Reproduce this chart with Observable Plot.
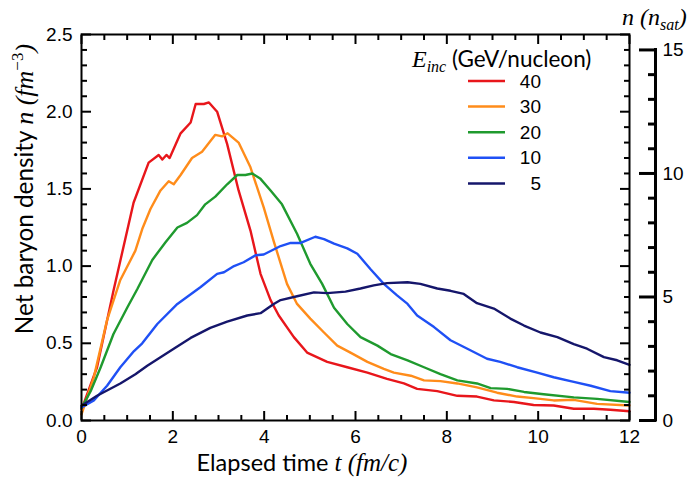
<!DOCTYPE html>
<html><head><meta charset="utf-8">
<script src="https://cdn.jsdelivr.net/npm/d3@7"></script>
<script src="https://cdn.jsdelivr.net/npm/@observablehq/plot@0.6"></script>
<style>body{margin:0;background:#fff}</style>
</head><body><div id="chart"></div>
<script>
// ---- data ----
const energies = ["40", "30", "20", "10", "5"];
const colors = ["#e8161b", "#ff8c1a", "#1f9a2e", "#1f50f5", "#15166b"];

const t40 = [0, 0.34, 0.70, 1.14, 1.47, 1.69, 1.77, 1.86, 1.93, 2.17, 2.39, 2.50, 2.68, 2.79, 2.97, 3.19, 3.44, 3.70, 3.92, 4.14, 4.32, 4.65, 4.94, 5.38, 5.82, 6.26, 6.69, 7.06, 7.35, 7.79, 8.23, 8.66, 9.03, 9.47, 9.90, 10.34, 10.78, 11.22, 11.58, 12.0];
const n40 = [0.07, 0.345, 0.84, 1.41, 1.67, 1.72, 1.69, 1.72, 1.70, 1.86, 1.93, 2.05, 2.05, 2.06, 2.00, 1.79, 1.49, 1.23, 0.95, 0.78, 0.68, 0.54, 0.44, 0.38, 0.345, 0.31, 0.27, 0.24, 0.205, 0.19, 0.16, 0.155, 0.13, 0.12, 0.10, 0.097, 0.076, 0.076, 0.07, 0.06];

const t30 = [0, 0.27, 0.56, 0.85, 1.18, 1.33, 1.51, 1.73, 1.91, 2.02, 2.17, 2.42, 2.64, 2.93, 3.08, 3.20, 3.44, 3.70, 3.99, 4.21, 4.50, 4.72, 5.01, 5.31, 5.60, 5.89, 6.26, 6.62, 6.84, 7.21, 7.50, 7.86, 8.23, 8.66, 9.10, 9.54, 9.90, 10.34, 10.78, 11.29, 12.0];
const n30 = [0.04, 0.28, 0.65, 0.91, 1.10, 1.24, 1.37, 1.49, 1.55, 1.53, 1.59, 1.70, 1.74, 1.85, 1.84, 1.86, 1.80, 1.64, 1.38, 1.16, 0.885, 0.755, 0.66, 0.57, 0.485, 0.44, 0.38, 0.335, 0.31, 0.29, 0.26, 0.255, 0.24, 0.215, 0.18, 0.155, 0.145, 0.13, 0.134, 0.108, 0.097];

const t20 = [0, 0.20, 0.42, 0.70, 1.0, 1.22, 1.55, 1.84, 2.10, 2.31, 2.53, 2.71, 2.93, 3.19, 3.41, 3.59, 3.74, 3.92, 4.14, 4.39, 4.72, 5.01, 5.27, 5.53, 5.82, 6.11, 6.48, 6.77, 7.14, 7.50, 7.86, 8.23, 8.66, 8.96, 9.32, 9.69, 10.12, 10.78, 11.29, 12.0];
const n20 = [0.08, 0.19, 0.345, 0.56, 0.73, 0.85, 1.04, 1.155, 1.25, 1.28, 1.33, 1.40, 1.45, 1.53, 1.59, 1.59, 1.60, 1.565, 1.49, 1.40, 1.21, 1.015, 0.885, 0.73, 0.625, 0.54, 0.485, 0.43, 0.39, 0.345, 0.30, 0.26, 0.24, 0.21, 0.205, 0.185, 0.17, 0.15, 0.14, 0.12];

const t10 = [0, 0.27, 0.56, 0.85, 1.15, 1.33, 1.66, 2.10, 2.31, 2.61, 2.97, 3.12, 3.34, 3.55, 3.81, 3.99, 4.36, 4.58, 4.80, 5.12, 5.31, 5.53, 5.82, 6.04, 6.33, 6.62, 6.91, 7.14, 7.35, 7.72, 8.08, 8.45, 8.88, 9.17, 9.54, 9.98, 10.34, 10.78, 11.15, 11.58, 12.0];
const n10 = [0.085, 0.13, 0.225, 0.345, 0.45, 0.50, 0.625, 0.755, 0.80, 0.865, 0.95, 0.96, 1.0, 1.025, 1.07, 1.075, 1.13, 1.15, 1.15, 1.19, 1.175, 1.145, 1.115, 1.08, 0.98, 0.885, 0.81, 0.755, 0.68, 0.605, 0.52, 0.465, 0.40, 0.38, 0.345, 0.31, 0.28, 0.25, 0.225, 0.19, 0.18];

const t5 = [0, 0.34, 0.85, 1.18, 1.44, 1.73, 2.02, 2.39, 2.82, 3.19, 3.63, 3.92, 4.21, 4.36, 4.72, 5.09, 5.38, 5.78, 6.11, 6.40, 6.69, 7.14, 7.42, 7.79, 8.08, 8.37, 8.66, 9.03, 9.39, 9.69, 10.05, 10.42, 10.78, 11.07, 11.44, 11.73, 12.0];
const n5 = [0.095, 0.16, 0.24, 0.30, 0.355, 0.41, 0.465, 0.535, 0.60, 0.64, 0.68, 0.695, 0.755, 0.78, 0.805, 0.83, 0.825, 0.835, 0.855, 0.875, 0.89, 0.895, 0.885, 0.855, 0.84, 0.82, 0.76, 0.725, 0.66, 0.615, 0.57, 0.54, 0.495, 0.465, 0.41, 0.39, 0.36];

const xDomain = [0, 12];
const yDomain = [0, 2.5];
const xTicks = [0, 2, 4, 6, 8, 10, 12];
const xMinorTicks = [0.5, 1, 1.5, 2.5, 3, 3.5, 4.5, 5, 5.5, 6.5, 7, 7.5, 8.5, 9, 9.5, 10.5, 11, 11.5];
const yTicks = [0, 0.5, 1.0, 1.5, 2.0, 2.5];
const yMinorTicks = [0.1, 0.2, 0.3, 0.4, 0.6, 0.7, 0.8, 0.9, 1.1, 1.2, 1.3, 1.4, 1.6, 1.7, 1.8, 1.9, 2.1, 2.2, 2.3, 2.4];
const nsat = 0.16; // fm^-3
const nsatTicks = [0, 5, 10, 15];
const nsatMinorTicks = [1, 2, 3, 4, 6, 7, 8, 9, 11, 12, 13, 14];

// ---- build table ----
const series = [
  {E: "40", t: t40, n: n40},
  {E: "30", t: t30, n: n30},
  {E: "20", t: t20, n: n20},
  {E: "10", t: t10, n: n10},
  {E: "5", t: t5, n: n5}
];
const rows = series.flatMap(s => s.t.map((t, i) => ({E: s.E, t, n: s.n[i]})));

const none = () => "";
const numFont = "'Liberation Sans Narrow','Liberation Sans',Arial,sans-serif";
const plot = Plot.plot({
  width: 699, height: 477,
  marginLeft: 81, marginRight: 70, marginTop: 34, marginBottom: 57,
  style: {fontFamily: numFont, fontSize: "19px", background: "white", color: "black"},
  x: {domain: xDomain, label: null},
  y: {domain: yDomain, label: null},
  color: {domain: energies, range: colors},
  marks: [
    Plot.line(rows, {x: "t", y: "n", z: "E", stroke: "E", strokeWidth: 2.4, strokeLinejoin: "round"}),
    Plot.frame({stroke: "black", strokeWidth: 2}),
    // inward ticks on all four sides of the frame
    Plot.axisY({ticks: yTicks, tickSize: 10, dx: 10, tickPadding: 9, tickFormat: d3.format(".1f"), strokeWidth: 2, label: null}),
    Plot.axisY({ticks: yMinorTicks, tickSize: 6, dx: 6, tickFormat: none, strokeWidth: 2, label: null}),
    Plot.axisY({anchor: "right", ticks: yTicks, tickSize: -10, tickFormat: none, strokeWidth: 2, label: null}),
    Plot.axisY({anchor: "right", ticks: yMinorTicks, tickSize: -6, tickFormat: none, strokeWidth: 2, label: null}),
    Plot.axisX({ticks: xTicks, tickSize: 9, dy: -9, tickPadding: 9, tickFormat: d => String(d), strokeWidth: 2, label: null}),
    Plot.axisX({ticks: xMinorTicks, tickSize: 5, dy: -5, tickFormat: none, strokeWidth: 2, label: null}),
    Plot.axisX({anchor: "top", ticks: xTicks, tickSize: -9, tickFormat: none, strokeWidth: 2, label: null}),
    Plot.axisX({anchor: "top", ticks: xMinorTicks, tickSize: -5, tickFormat: none, strokeWidth: 2, label: null}),
    // secondary axis in units of saturation density
    Plot.ruleX([xDomain[1]], {y1: 0, y2: nsatTicks[nsatTicks.length - 1] * nsat, dx: 26, strokeWidth: 3, strokeLinecap: "square"}),
    Plot.axisY({anchor: "right", ticks: nsatTicks.map(k => k * nsat), tickSize: 17, dx: 9, tickPadding: 7,
      tickFormat: d => String(Math.round(d / nsat)), strokeWidth: 3, label: null}),
    Plot.axisY({anchor: "right", ticks: nsatMinorTicks.map(k => k * nsat), tickSize: 8, dx: 18, tickFormat: none, strokeWidth: 3, label: null})
  ]
});
document.getElementById("chart").appendChild(plot);

// ---- titles & legend (text) ----
const svg = d3.select(plot);
const serif = "'Liberation Serif','DejaVu Serif',serif";
const sans = "Lato, 'Open Sans', sans-serif";

function part(sel, txt, opts = {}) {
  const s = sel.append("tspan").text(txt);
  if (opts.serif) s.attr("font-family", serif);
  if (opts.italic) s.attr("font-style", "italic");
  if (opts.size) s.attr("font-size", opts.size);
  if (opts.dy) s.attr("dy", opts.dy);
  return s;
}

// x title
const xt = svg.append("text").attr("x", 302).attr("y", 471).attr("text-anchor", "middle")
  .attr("font-family", sans).attr("font-size", 23.5).attr("fill", "black");
part(xt, "Elapsed time ");
part(xt, "t", {serif: true, italic: true, size: 25});
part(xt, " (", {serif: true, italic: true, size: 25});
part(xt, "fm/c", {serif: true, italic: true, size: 25});
part(xt, ")", {serif: true, italic: true, size: 25});

// y title
const yt = svg.append("text").attr("transform", "translate(33,189) rotate(-90)").attr("text-anchor", "middle")
  .attr("font-family", sans).attr("font-size", 24.3).attr("fill", "black");
part(yt, "Net baryon density ");
part(yt, "n", {serif: true, italic: true, size: 26});
part(yt, " (", {serif: true, italic: true, size: 26});
part(yt, "fm", {serif: true, italic: true, size: 26});
part(yt, "\u22123", {serif: true, size: 17, dy: -10});
part(yt, ")", {serif: true, italic: true, size: 26, dy: 10});

// right axis title
const rt = svg.append("text").attr("x", 622).attr("y", 25).attr("text-anchor", "start")
  .attr("font-family", serif).attr("font-style", "italic").attr("font-size", 24).attr("fill", "black");
part(rt, "n (n");
part(rt, "sat", {size: 16, dy: 5});
part(rt, ")", {dy: -5});

// legend
const lg = svg.append("g");
const lt = lg.append("text").attr("x", 412).attr("y", 67).attr("text-anchor", "start")
  .attr("font-family", sans).attr("font-size", 22.5).attr("fill", "black");
part(lt, "E", {serif: true, italic: true, size: 24});
part(lt, "inc", {serif: true, italic: true, size: 16, dy: 5});
part(lt, " (GeV/nucleon)", {dy: -5});

energies.forEach((e, i) => {
  const y = 81 + i * 25.6;
  lg.append("line").attr("x1", 468).attr("x2", 505).attr("y1", y).attr("y2", y)
    .attr("stroke", colors[i]).attr("stroke-width", 2.5);
  lg.append("text").attr("x", 541).attr("y", y).attr("dy", "0.35em").attr("text-anchor", "end")
    .attr("font-family", numFont).attr("font-size", 19)
    .attr("fill", "black").text(e);
});
</script>
</body></html>
